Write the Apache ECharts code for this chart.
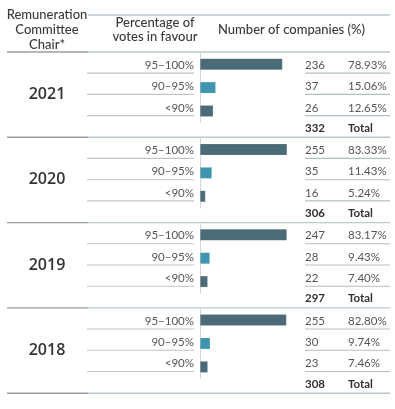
<!DOCTYPE html>
<html>
<head>
<meta charset="utf-8">
<script src="https://cdn.jsdelivr.net/npm/echarts@6/dist/echarts.min.js"></script>
<style>
html,body{margin:0;padding:0;background:#fff;}
#chart{width:395px;height:409px;}
</style>
</head>
<body>
<div id="chart"></div>
<script>
const years = ['2021', '2020', '2019', '2018'];
const categories = ['95–100%', '90–95%', '<90%'];
const counts = [[236, 37, 26], [255, 35, 16], [247, 28, 22], [255, 30, 23]];
const percents = [[78.93, 15.06, 12.65], [83.33, 11.43, 5.24], [83.17, 9.43, 7.40], [82.80, 9.74, 7.46]];
const totals = [332, 306, 297, 308];
const headers = ['Remuneration\nCommittee\nChair*', 'Percentage of\nvotes in favour', 'Number of companies (%)'];

const FONT = 'Lato, "Open Sans", sans-serif';
const barColors = ['#4b6b77', '#3f95ad', '#4b6b77'];
const T0 = 52, BH = 85.3;
const rowLineOff = [21.1, 42.4, 63.6];
const textOff = [13, 34.3, 55.8];
const totalOff = 76;

const chart = echarts.init(document.getElementById('chart'), null, {renderer: 'canvas'});

const grids = [], xAxes = [], yAxes = [], series = [], graphics = [];

function line(x1, y1, x2, y2, color, w) {
  graphics.push({type: 'line', silent: true, shape: {x1, y1, x2, y2}, style: {stroke: color, lineWidth: w || 1.2}});
}
function text(str, x, y, opt) {
  graphics.push({type: 'text', silent: true, style: Object.assign({
    text: str, x, y, fill: '#555', font: '11.5px ' + FONT, align: 'left', verticalAlign: 'middle'
  }, opt || {})});
}

// header
line(88, 15, 390, 15, '#b7c8cf', 1.3);
headers[0].split('\n').forEach((s, i) => text(s, 47, 15 + i * 14.8, {align: 'center', fill: '#3a3a3a', font: '500 13px ' + FONT}));
headers[1].split('\n').forEach((s, i) => text(s, 155, 23.3 + i * 14, {align: 'center', fill: '#3a3a3a', font: '500 13px ' + FONT}));
text(headers[2], 218, 30, {fill: '#3a3a3a', font: '500 13px ' + FONT});

years.forEach((yr, b) => {
  const T = T0 + b * BH;
  line(7, T, 88, T, '#9c9c9c', 1.4);
  line(88, T, 390, T, '#bccacf', 1.4);
  text(yr, 47, T + 42.5, {align: 'center', fill: '#333', font: '600 16px "Open Sans", Lato, sans-serif'});
  categories.forEach((c, r) => {
    const ly = T + rowLineOff[r];
    line(87, ly, 194, ly, '#c2c2c2', 1.1);
    line(305, ly, 390, ly, '#b3c0c5', 1.1);
    text(c, 194, T + textOff[r], {align: 'right'});
    text(String(counts[b][r]), 305, T + textOff[r]);
    text(percents[b][r].toFixed(2) + '%', 348, T + textOff[r]);
  });
  text(String(totals[b]), 305, T + totalOff, {fill: '#333', font: 'bold 11.5px ' + FONT});
  text('Total', 348, T + totalOff, {fill: '#333', font: 'bold 11.5px ' + FONT});

  grids.push({left: 200, top: T + 0.5, width: 104.5, height: 70.2});
  xAxes.push({type: 'value', gridIndex: b, min: 0, max: 100, show: false});
  yAxes.push({
    type: 'category', gridIndex: b, data: categories, inverse: true,
    axisLine: {show: true, lineStyle: {color: '#d6d6d6', width: 1}},
    axisTick: {show: false}, axisLabel: {show: false}, splitLine: {show: false}
  });
  series.push({
    type: 'bar', xAxisIndex: b, yAxisIndex: b, barWidth: 11.5, silent: true,
    data: percents[b].map((v, r) => ({value: v, itemStyle: {color: barColors[r]}})),
    itemStyle: {borderColor: 'rgba(255,255,255,0.25)', borderWidth: 0.5}
  });
});
const TB = T0 + years.length * BH;
line(7, TB, 88, TB, '#9c9c9c', 1.4);
line(88, TB, 390, TB, '#bccacf', 1.4);

chart.setOption({
  animation: false,
  backgroundColor: '#fff',
  grid: grids, xAxis: xAxes, yAxis: yAxes, series: series,
  graphic: {elements: graphics}
});
</script>
</body>
</html>
